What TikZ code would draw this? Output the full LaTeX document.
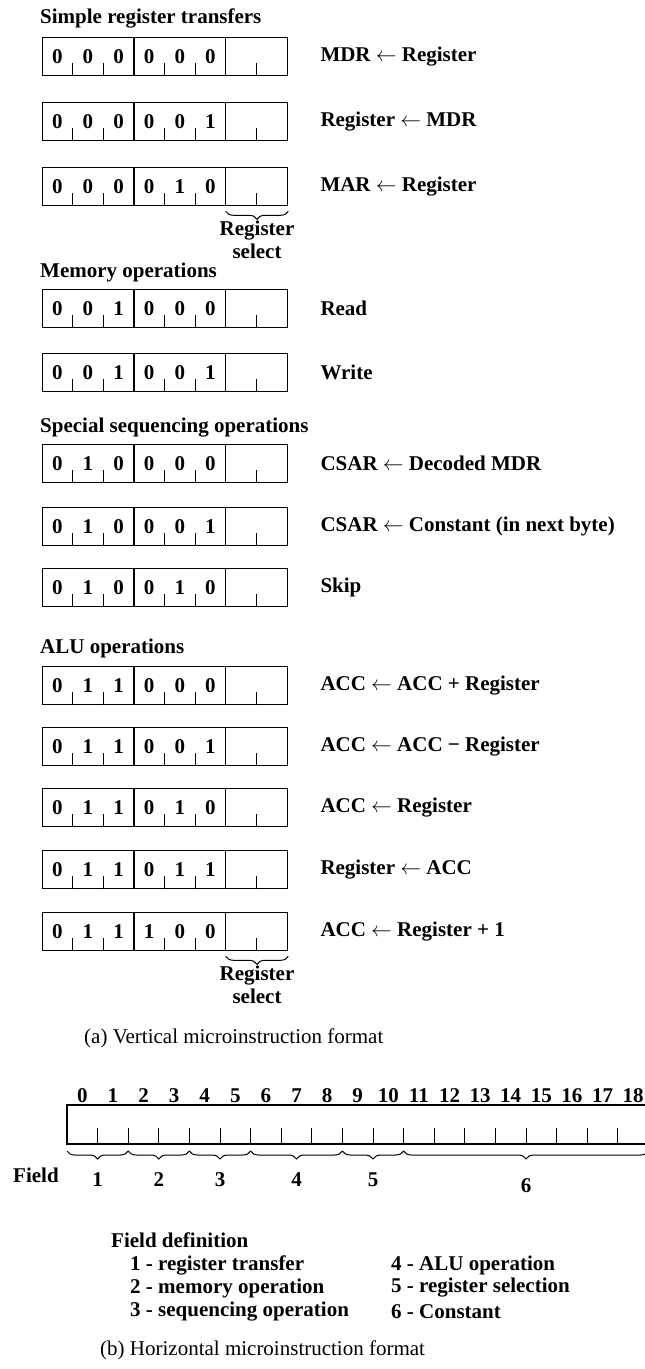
\documentclass[tikz,border=0pt]{standalone}
\usepackage{fontspec}
\setmainfont{Liberation Serif}
\usetikzlibrary{positioning,calc,decorations.pathreplacing}
\newcommand{\bigbf}{\fontsize{21}{23}\selectfont\bfseries}
\newcommand{\bigrm}{\fontsize{21}{23}\selectfont}
\newcommand{\larr}{\ensuremath{\leftarrow}}
\tikzset{
  wordbox/.style={draw,line width=1.3pt,minimum width=245pt,minimum height=38pt,inner sep=0pt,anchor=north west},
  wordline/.style={line width=1.3pt},
  tickline/.style={line width=1pt},
  bitnum/.style={font=\bigbf,inner sep=0pt},
  oplabel/.style={font=\bigbf,inner sep=0pt,anchor=west},
  heading/.style={font=\bigbf,inner sep=0pt,anchor=west},
  caption/.style={font=\bigrm,inner sep=0pt,anchor=west},
  selbrace/.style={decorate,decoration={brace,mirror,amplitude=8pt},line width=1pt},
  fieldbrace/.style={decorate,decoration={brace,mirror,amplitude=8pt},line width=1pt}
}
\newcommand{\microword}[4]{%
  \node[wordbox] (#1) at (42,#2) {};
  \draw[wordline] ($(#1.north west)+(91.875,0)$) -- ($(#1.south west)+(91.875,0)$);
  \draw[wordline] ($(#1.north west)+(183.75,0)$) -- ($(#1.south west)+(183.75,0)$);
  \foreach \t in {1,2,4,5,7}
    \draw[tickline] ($(#1.south west)+(\t*30.625,0)$) -- ++(0,-13);
  \foreach \b [count=\i from 0] in {#3}
    \node[bitnum] (#1-\i) at ($(#1.west)+(\i*30.625+15.3,0)$) {\b};
  \node[oplabel,right=32pt of #1] (#1-op) {#4};
}

\begin{document}
\begin{tikzpicture}[x=1pt,y=-1pt]
    \useasboundingbox (0,0) rectangle (645,1369);
    \node[heading] (hsimple) at (40,18) {Simple register transfers};
    \microword{w1}{37}{0,0,0,0,0,0}{MDR \larr{} Register}
    \microword{w2}{102}{0,0,0,0,0,1}{Register \larr{} MDR}
    \microword{w3}{167}{0,0,0,0,1,0}{MAR \larr{} Register}
    \draw[selbrace] ($(w3.south west)+(183.75,5)$) -- ($(w3.south east)+(0,5)$)
      node[midway,below=9pt,font=\bigbf,align=center,inner sep=0pt] (sel1) {Register\\select};
    \node[heading] (hmem) at (40,272) {Memory operations};
    \microword{w4}{289}{0,0,1,0,0,0}{Read}
    \microword{w5}{353}{0,0,1,0,0,1}{Write}
    \node[heading] (hseq) at (40,428) {Special sequencing operations};
    \microword{w6}{444}{0,1,0,0,0,0}{CSAR \larr{} Decoded MDR}
    \microword{w7}{507}{0,1,0,0,0,1}{CSAR \larr{} Constant (in next byte)}
    \microword{w8}{568}{0,1,0,0,1,0}{Skip}
    \node[heading] (halu) at (40,648) {ALU operations};
    \microword{w9}{666}{0,1,1,0,0,0}{ACC \larr{} ACC + Register}
    \microword{w10}{727}{0,1,1,0,0,1}{ACC \larr{} ACC − Register}
    \microword{w11}{788}{0,1,1,0,1,0}{ACC \larr{} Register}
    \microword{w12}{850}{0,1,1,0,1,1}{Register \larr{} ACC}
    \microword{w13}{912}{0,1,1,1,0,0}{ACC \larr{} Register + 1}
    \draw[selbrace] ($(w13.south west)+(183.75,5)$) -- ($(w13.south east)+(0,5)$)
      node[midway,below=9pt,font=\bigbf,align=center,inner sep=0pt] (sel2) {Register\\select};
    \node[caption] (capa) at (84,1038) {(a) Vertical microinstruction format};
    \coordinate (hw) at (67,1105);
    \coordinate (hne) at (648,1105);
    \coordinate (hse) at (648,1144);
    \draw[wordline] (hne) -- (hw) |- (hse);
    \foreach \t in {1,...,18}
      \draw[tickline] ($(hw)+(\t*30.6,39)$) -- ++(0,-16);
    \foreach \n in {0,...,18}
      \node[bitnum] (hb\n) at ($(hw)+(\n*30.6+15.3,-9)$) {\n};
    \foreach \a/\b/\k in {0/2/1,2/4/2,4/6/3,6/9/4,9/11/5}
      \draw[fieldbrace] ($(hw)+(\a*30.6,46)$) -- ($(hw)+(\b*30.6,46)$)
        node[midway,below=21pt,font=\bigbf,inner sep=0pt] (fld\k) {\k};
    \draw[fieldbrace] ($(hw)+(11*30.6,46)$) -- ($(hw)+(19*30.6,46)$)
      node[midway,below=27pt,font=\bigbf,inner sep=0pt] (fld6) {6};
    \node[heading] (fieldtag) at (13,1175) {Field};
    \node[heading] (fdef) at (111,1240) {Field definition};
    \node[heading] (fd1) at (130,1265) {1 - register transfer};
    \node[heading] (fd2) at (130,1288) {2 - memory operation};
    \node[heading] (fd3) at (130,1312) {3 - sequencing operation};
    \node[heading] (fd4) at (391,1265) {4 - ALU operation};
    \node[heading] (fd5) at (391,1288) {5 - register selection};
    \node[heading] (fd6) at (391,1312) {6 - Constant};
    \node[caption] (capb) at (100,1350) {(b) Horizontal microinstruction format};
\end{tikzpicture}
\end{document}
